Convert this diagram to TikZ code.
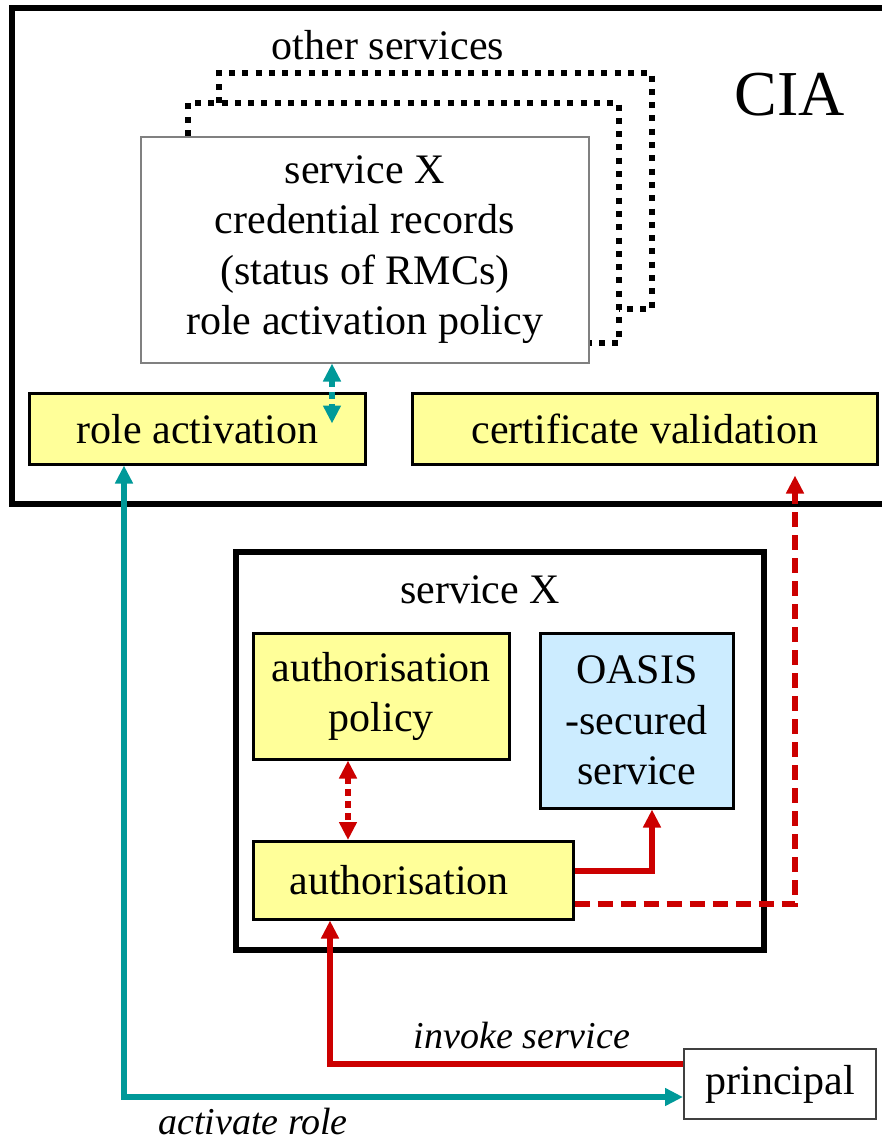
\documentclass[tikz,border=0pt]{standalone}
\usepackage{fontspec}
\setmainfont{Liberation Serif}
\usetikzlibrary{arrows.meta}
\definecolor{yel}{HTML}{FFFF99}
\definecolor{blu}{HTML}{CCECFF}
\definecolor{teal2}{HTML}{009999}
\definecolor{red2}{HTML}{CC0000}
\definecolor{gry}{HTML}{808080}
\definecolor{dgry}{HTML}{404040}
\tikzset{
  txt/.style={font=\fontsize{42}{50.5}\selectfont, inner sep=0pt, align=center},
  itxt/.style={font=\fontsize{38}{46}\selectfont\itshape, inner sep=0pt},
  ybox/.style={txt, draw=black, line width=2.5pt, fill=yel},
  bbox/.style={txt, draw=black, line width=2.5pt, fill=blu},
  frame/.style={draw=black, line width=6pt},
  dotline/.style={draw=black, line width=6pt, dash pattern=on 6pt off 7.3pt},
  tip/.style={-{Triangle[length=18pt,width=17pt]}},
  dtip/.style={{Triangle[length=18pt,width=17pt]}-{Triangle[length=18pt,width=17pt]}},
  redline/.style={draw=red2, line width=6pt},
  tealline/.style={draw=teal2, line width=6pt},
}
\begin{document}
\begin{tikzpicture}[x=1pt,y=-1pt]
\useasboundingbox (0,0) rectangle (882,1144);
% CIA frame
\draw[frame] (885,7.5) -- (12,7.5) -- (12,504) -- (885,504);
\node[txt] (otherlbl) at (388,45) {other services};
\node[font=\fontsize{64}{70}\selectfont, inner sep=0pt] (cialbl) at (790,95) {CIA};
% other services (stacked)
\draw[dotline] (219,103) -- (219,73) -- (652,73) -- (652,309) -- (619,309);
\draw[dotline] (188,136) -- (188,103) -- (619,103) -- (619,343) -- (588,343);
% credential records box
\node[txt, draw=gry, line width=1.5pt, fill=white, anchor=north west,
      minimum width=448pt, minimum height=226pt] (rec) at (140,136)
  {service X\\credential records\\(status of RMCs)\\role activation policy};
\node[ybox, anchor=north west, minimum width=336pt, minimum height=71pt] (roleact) at (28,392) {role activation};
\node[ybox, anchor=north west, minimum width=465pt, minimum height=71pt] (certval) at (411,392) {certificate validation};
\draw[tealline, dtip, dash pattern=on 7pt off 5pt] ([xshift=192pt]rec.south west) -- ++(0,60);
% service X frame
\draw[frame] (236,552) rectangle (764,950);
\node[txt] (svclbl) at (480,590) {service X};
\node[ybox, anchor=north west, minimum width=256pt, minimum height=126pt] (authpol) at (252,632) {authorisation\\policy};
\node[bbox, anchor=north west, minimum width=193pt, minimum height=175pt] (oasis) at (539,632) {OASIS\\-secured\\service};
\node[ybox, anchor=north west, minimum width=320pt, minimum height=78pt] (auth) at (252,840) {authorisation\hspace*{28pt}};
\node[txt, draw=dgry, line width=2pt, fill=white, anchor=north west, minimum width=192pt, minimum height=70pt] (princ) at (683,1048) {principal};
% connectors
\draw[redline, dtip, dash pattern=on 7pt off 5pt] ([xshift=96pt]authpol.south west) -- ([xshift=96pt]auth.north west);
\draw[redline, tip] ([yshift=9pt]auth.east) -| ([xshift=113pt]oasis.south west);
\draw[redline, tip, dash pattern=on 15pt off 8pt, shorten >=10pt] ([yshift=-24pt]auth.east) -| ([xshift=384pt]certval.south west);
\draw[redline, tip] ([yshift=20pt]princ.west) -| ([xshift=78pt]auth.south west);
\draw[tealline, dtip] ([xshift=96pt]roleact.south west) |- ([yshift=-13pt]princ.west);
\node[itxt] (invlbl) at (522,1035) {invoke service};
\node[itxt] (actlbl) at (253,1121) {activate role};
\end{tikzpicture}
\end{document}
